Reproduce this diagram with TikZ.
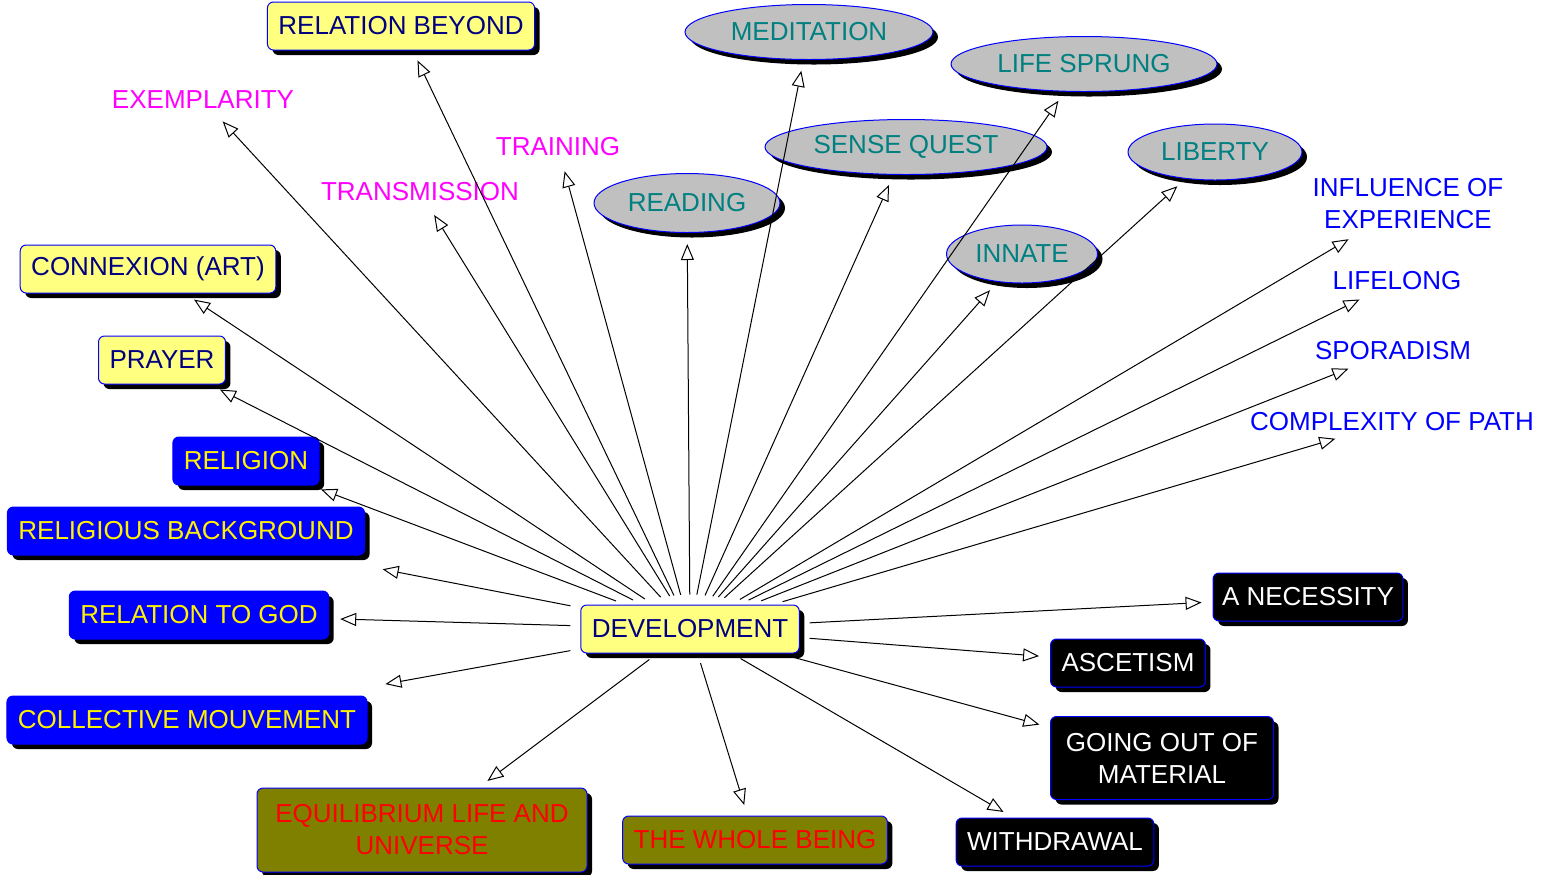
\documentclass[tikz,border=0pt]{standalone}
\usepackage{fontspec}
\setmainfont{Liberation Sans}
\usetikzlibrary{arrows.meta,shapes.geometric,shadows}
\definecolor{paleyellow}{RGB}{255,255,128}
\definecolor{navytext}{RGB}{0,0,128}
\definecolor{olivefill}{RGB}{128,128,0}
\definecolor{tealtext}{RGB}{0,128,128}
\definecolor{greyfill}{RGB}{192,192,192}
\definecolor{pinktext}{RGB}{255,0,255}
\definecolor{bluetext}{RGB}{0,0,255}
\tikzset{
  every node/.style={font=\fontsize{13}{16}\selectfont},
  shade it/.style={drop shadow={shadow xshift=2.5pt, shadow yshift=-2.5pt, fill=black, opacity=1}},
  box/.style={rectangle, rounded corners=3pt, draw=bluetext, line width=0.5pt,
    inner xsep=5.5pt, minimum height=24pt, align=center, shade it},
  yellowbox/.style={box, fill=paleyellow, text=navytext},
  bluebox/.style={box, fill=bluetext, text=yellow},
  olivebox/.style={box, fill=olivefill, text=red},
  blackbox/.style={box, fill=black, text=white},
  oval/.style={ellipse, draw=bluetext, line width=0.5pt, fill=greyfill, text=tealtext,
    inner sep=0pt, shade it},
  word/.style={inner sep=2pt, align=center},
  arr/.style={-{Triangle[open, length=8pt, width=6.5pt]}, line width=0.5pt,
    shorten <=5pt, shorten >=5.5pt}
}
\begin{document}
\begin{tikzpicture}[x=0.5pt, y=-0.5pt]
  \useasboundingbox (0,0) rectangle (1541,874);
  % centre
  \node[yellowbox] (dev) at (690,629) {DEVELOPMENT};
  % yellow boxes
  \node[yellowbox] (relbeyond) at (401,26) {RELATION BEYOND};
  \node[yellowbox] (connexion) at (148,269) {CONNEXION (ART)};
  \node[yellowbox] (prayer) at (162,360) {PRAYER};
  % blue boxes
  \node[bluebox] (religion) at (246,461) {RELIGION};
  \node[bluebox] (relback) at (186,531) {RELIGIOUS BACKGROUND};
  \node[bluebox] (relgod) at (199,615) {RELATION TO GOD};
  \node[bluebox] (collective) at (187,720) {COLLECTIVE MOUVEMENT};
  % olive boxes
  \node[olivebox, minimum width=165pt, minimum height=42pt] (equil) at (422,830)
    {EQUILIBRIUM LIFE AND\\UNIVERSE};
  \node[olivebox] (whole) at (755,840) {THE WHOLE BEING};
  % black boxes
  \node[blackbox, inner xsep=4.5pt] (necessity) at (1308,597) {A NECESSITY};
  \node[blackbox] (ascetism) at (1128,663) {ASCETISM};
  \node[blackbox, minimum width=111.5pt, minimum height=41.5pt] (goingout) at (1162,758)
    {GOING OUT OF\\MATERIAL};
  \node[blackbox] (withdrawal) at (1055,842) {WITHDRAWAL};
  % ovals
  \node[oval, minimum width=124pt, minimum height=27.5pt] (meditation) at (809,32) {MEDITATION};
  \node[oval, minimum width=133pt, minimum height=27.5pt] (lifesprung) at (1084,64) {LIFE SPRUNG};
  \node[oval, minimum width=141pt, minimum height=27.5pt] (sensequest) at (906,147) {SENSE QUEST};
  \node[oval, minimum width=87pt, minimum height=28pt] (liberty) at (1215,152) {LIBERTY};
  \node[oval, minimum width=93pt, minimum height=29.5pt] (reading) at (687,203) {READING};
  \node[oval, minimum width=75.5pt, minimum height=29pt] (innate) at (1022,254) {INNATE};
  % plain words
  \node[word, text=pinktext] (exemplarity) at (203,100) {EXEMPLARITY};
  \node[word, text=pinktext] (training) at (558,147) {TRAINING};
  \node[word, text=pinktext] (transmission) at (420,192) {TRANSMISSION};
  \node[word, text=bluetext] (influence) at (1408,204) {INFLUENCE OF\\EXPERIENCE};
  \node[word, text=bluetext] (lifelong) at (1397,281) {LIFELONG};
  \node[word, text=bluetext] (sporadism) at (1393,351) {SPORADISM};
  \node[word, text=bluetext] (complexity) at (1392,422) {COMPLEXITY OF PATH};
  % connectors
  \foreach \t in {relbeyond,connexion,prayer,religion,relgod,%
    equil,whole,necessity,ascetism,goingout,withdrawal,meditation,lifesprung,%
    sensequest,liberty,reading,innate,exemplarity,training,transmission,%
    influence,lifelong,sporadism,complexity}
    \draw[arr] (dev) -- (\t);
  \draw[arr, shorten >=36pt] (dev) -- (relback);
  \draw[arr, shorten >=32pt] (dev) -- (collective);
\end{tikzpicture}
\end{document}
